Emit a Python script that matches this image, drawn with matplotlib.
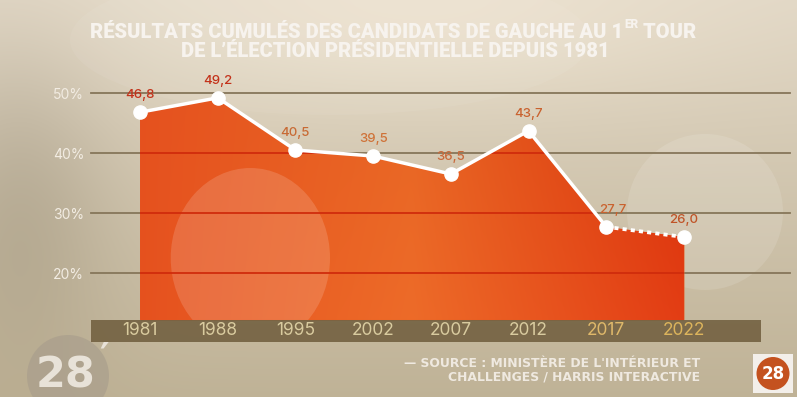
import numpy as np
import matplotlib
matplotlib.use("Agg")
import matplotlib.pyplot as plt
from matplotlib.patches import Circle, Ellipse, Rectangle

# data
years = ["1981", "1988", "1995", "2002", "2007", "2012", "2017", "2022"]
values = [46.8, 49.2, 40.5, 39.5, 36.5, 43.7, 27.7, 26.0]
label_colors = ["#c3321a", "#c3321a", "#c86a34", "#cf7238", "#c9693a",
                "#c9622f", "#c9622f", "#c05428"]
year_colors = ["#d9cb9f"] * 6 + ["#dfb86a", "#dcb45c"]
yticks = [20, 30, 40, 50]
ytick_labels = ["20%", "30%", "40%", "50%"]

title_1 = "RÉSULTATS CUMULÉS DES CANDIDATS DE GAUCHE AU 1"
title_sup = "ER"
title_1b = " TOUR"
title_2 = "DE L’ÉLECTION PRÉSIDENTIELLE DEPUIS 1981"
source_1 = "— SOURCE : MINISTÈRE DE L'INTÉRIEUR ET"
source_2 = "CHALLENGES / HARRIS INTERACTIVE"

W, H = 797, 397
fig = plt.figure(figsize=(W / 100, H / 100), dpi=100)

# background (pixel coordinates)
bg = fig.add_axes([0, 0, 1, 1])
bg.set_xlim(0, W)
bg.set_ylim(H, 0)
bg.axis("off")
yy, xx = np.mgrid[0:H, 0:W]
t = (yy / (H - 1))[..., None]
top = np.array([0.88, 0.84, 0.77])
bot = np.array([0.75, 0.70, 0.59])
img = top * (1 - t) + bot * t
shade = np.exp(-((xx - 20) / 90.0) ** 2) * np.exp(-((yy - 200) / 160.0) ** 2)
img = img - 0.09 * shade[..., None]
glow = np.exp(-(((xx - 420) / 300.0) ** 2 + ((yy - 30) / 90.0) ** 2))
img = np.clip(img + 0.05 * glow[..., None], 0, 1)
bg.imshow(img, extent=(0, W, H, 0), aspect="auto", zorder=0)
bg.add_patch(Circle((705, 212), 78, color="white", alpha=0.12, lw=0, zorder=1))
bg.add_patch(Ellipse((330, 40), 520, 150, color="white", alpha=0.06, lw=0, zorder=1))

# bottom-left logo
bg.add_patch(Circle((68, 376), 41, color="#a89d8c", alpha=0.65, lw=0, zorder=2))
bg.text(66, 396, "28", fontsize=31, fontweight="bold", family="DejaVu Sans",
        color="#e8e2d8", ha="center", va="bottom", zorder=3)
bg.text(104, 358, "′", fontsize=26, fontweight="bold", family="DejaVu Sans",
        color="#e8e2d8", ha="center", va="center", zorder=3)

# bottom-right logo
bg.add_patch(Rectangle((753, 354), 40, 39, color="#f3efea", lw=0, zorder=2))
bg.add_patch(Circle((773, 373.5), 16.5, color="#c4521f", lw=0, zorder=3))
bg.text(773, 374, "28", fontsize=12, fontweight="bold", family="DejaVu Sans",
        color="white", ha="center", va="center", zorder=4)

# title
tkw = dict(fontsize=14.5, fontweight="black", family="Roboto", color="#f7f3ee", zorder=5)
t1 = bg.text(90, 38, title_1, ha="left", va="baseline", **tkw)
bg.text(395, 57, title_2, ha="center", va="baseline", **tkw)
fig.canvas.draw()
inv = bg.transData.inverted()
x1 = inv.transform(t1.get_window_extent().extents[[2, 3]])[0]
ts = bg.text(x1 + 1, 28, title_sup, ha="left", va="baseline",
             **{**tkw, "fontsize": 8.5})
fig.canvas.draw()
x2 = inv.transform(ts.get_window_extent().extents[[2, 3]])[0]
bg.text(x2, 38, title_1b, ha="left", va="baseline", **tkw)

# source
skw = dict(fontsize=8.9, fontweight="bold", family="DejaVu Sans", color="#efe9e0",
           ha="right", va="baseline", zorder=5)
bg.text(700, 367, source_1, **skw)
bg.text(700, 381, source_2, **skw)

# main chart: axes spans the year band (x 91..761 px, y 80..342 px)
ax = fig.add_axes([91 / W, (H - 342) / H, 670 / W, 262 / H])
ax.patch.set_alpha(0)
x = np.arange(len(years))
ymin, ymax = 8.5, 52.17
base = 12.17
ax.set_xlim(-0.631, 7.992)
ax.set_ylim(ymin, ymax)
for s in ax.spines.values():
    s.set_visible(False)
ax.set_xticks([])
ax.set_yticks(yticks)
ax.set_yticklabels(ytick_labels, family="Inter", fontsize=10)
ax.tick_params(axis="y", length=0, pad=5, labelcolor="#f2ece2")

# gridlines behind
for yv in yticks:
    ax.axhline(yv, xmin=0, xmax=1.043, color="#86765a", lw=1.3, clip_on=False, zorder=1)

# orange area with gradient
poly = ax.fill_between(x, base, values, color="#e85a20", lw=0, zorder=2)
clip = poly.get_paths()[0]
gx = np.linspace(0, 1, 200)[None, :]
gy = np.linspace(0, 1, 60)[:, None]
left = np.array([0.90, 0.32, 0.12])
mid = np.array([0.93, 0.42, 0.16])
right = np.array([0.89, 0.24, 0.08])
wl = np.clip(1 - gx / 0.5, 0, 1)[..., None]
wr = np.clip((gx - 0.5) / 0.5, 0, 1)[..., None]
wm = 1 - wl - wr
grad = left * wl + mid * wm + right * wr
grad = grad * np.ones((60, 200, 1))
grad = grad - 0.04 * (1 - gy)[..., None] * gx[..., None]
grad = np.clip(grad, 0, 1)
im = ax.imshow(grad, extent=(0, 7, base, 50), origin="upper", aspect="auto",
               interpolation="bilinear", zorder=3)
im.set_clip_path(clip, transform=ax.transData)
blob = Ellipse((1.42, 22.5), 2.05, 30.0, color="white", alpha=0.15, lw=0, zorder=4)
ax.add_patch(blob)
blob.set_clip_path(clip, transform=ax.transData)

# red gridlines inside the area
for yv in yticks:
    gl = ax.axhline(yv, color="#d02c0c", lw=1.3, zorder=5)
    gl.set_clip_path(clip, transform=ax.transData)

# year band
ax.axhspan(ymin, base, color="#6e5c3c", alpha=0.85, lw=0, zorder=2)
for i, yr in enumerate(years):
    ax.text(i, (ymin + base) / 2, yr, family="Inter", fontsize=12.5,
            color=year_colors[i], ha="center", va="center", zorder=6)

# line
ax.plot(x[:7], values[:7], color="white", lw=2.5, zorder=7, solid_capstyle="round")
ax.plot(x[6:], values[6:], color="white", lw=2.7, ls=(0, (1.1, 1.1)), zorder=7)
ax.plot(x, values, "o", color="white", ms=9.5, zorder=8)

# value labels
for i, v in enumerate(values):
    dx = 5 if i == 6 else 0
    ax.annotate(f"{v:.1f}".replace(".", ","), (i, v), xytext=(dx, 8),
                textcoords="offset points", ha="center", va="bottom",
                family="Inter", fontsize=9.5, fontweight="medium",
                color=label_colors[i], zorder=9)

fig.savefig("out.png", dpi=100)
